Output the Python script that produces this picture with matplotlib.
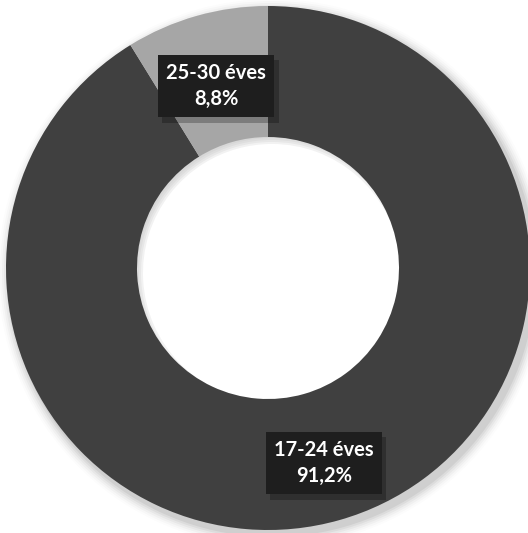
import numpy as np
import matplotlib
matplotlib.use("Agg")
import matplotlib.pyplot as plt
import matplotlib.patheffects as pe

categories = ["17-24 éves", "25-30 éves"]
shares = [91.2, 8.8]
colors = ["#404040", "#a6a6a6"]

W, H = 528, 533
fig = plt.figure(figsize=(W / 100, H / 100), dpi=100)
ax = fig.add_axes([0, 0, 1, 1])
ax.set_xlim(0, W); ax.set_ylim(0, H); ax.axis("off")

cx, cy, R = 268, H - 268, 262

# soft shadow toward lower right
for i, a in enumerate(np.linspace(0.05, 0.012, 6)):
    ax.pie(shares, radius=R + 2 + i * 2, center=(cx + 4, cy - 5), startangle=90,
           counterclock=False, colors=["#000000"] * 2,
           wedgeprops=dict(width=R * 0.5 + 4, alpha=a, linewidth=0))

wedges, _ = ax.pie(shares, radius=R, center=(cx, cy), startangle=90,
                   counterclock=False, colors=colors,
                   wedgeprops=dict(width=R * 0.5, linewidth=0))
ax.set_xlim(0, W); ax.set_ylim(0, H); ax.set_aspect("equal")

label_pos = [(324, H - 463), (216, H - 86)]
for name, v, (x, y) in zip(categories, shares, label_pos):
    txt = f"{name}\n{v:.1f}%".replace(".", ",")
    t = ax.text(x, y, txt, color="white", ha="center", va="center",
                fontsize=14.5, fontweight="bold", family="Lato", linespacing=1.35,
                bbox=dict(boxstyle="square,pad=0.42", fc="#1e1e1e", ec="none"))
    t.get_bbox_patch().set_path_effects(
        [pe.SimplePatchShadow(offset=(3, -4), shadow_rgbFace="black", alpha=0.25),
         pe.Normal()])

fig.savefig("out.png", dpi=100, facecolor="white")
